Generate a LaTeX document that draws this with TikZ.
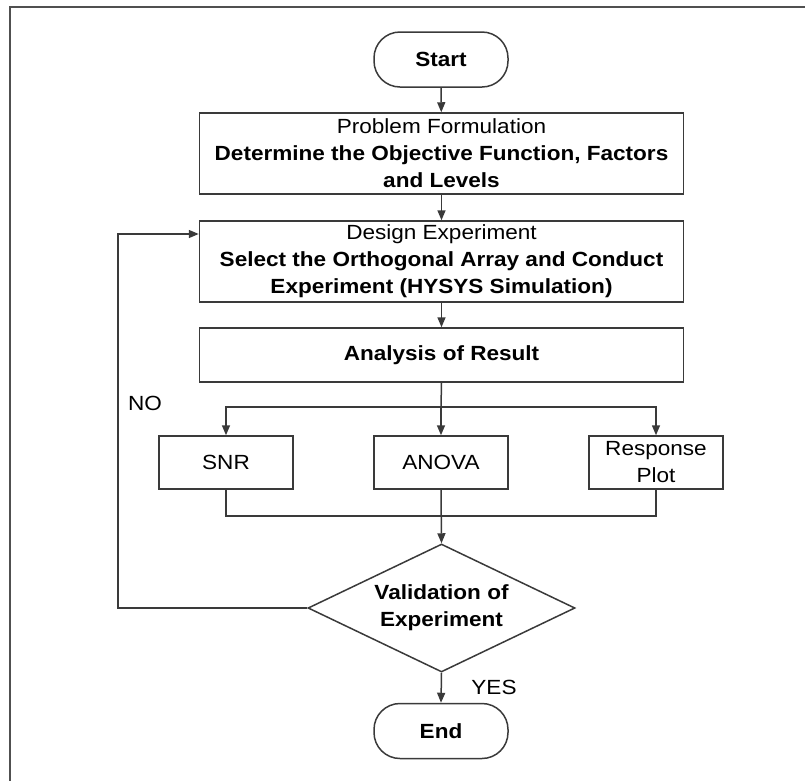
\documentclass[tikz,border=0pt]{standalone}
\usepackage{fontspec}
\setmainfont[FakeStretch=1.1]{Liberation Sans}
\usetikzlibrary{shapes.geometric,arrows.meta}
\definecolor{linec}{HTML}{3A3A3A}
\definecolor{framec}{HTML}{505050}
\begin{document}
\begin{tikzpicture}[x=1pt,y=-1pt,
  base/.style={draw=linec, line width=1.5pt, fill=white, align=center, inner sep=0pt,
    font=\fontsize{20.5}{27}\selectfont, text=black},
  box/.style={base, rectangle},
  term/.style={base, rectangle, rounded corners=26pt, minimum width=134pt, minimum height=55pt, font=\fontsize{20.5}{27}\selectfont\bfseries},
  decis/.style={base, diamond, aspect=2.09, minimum width=267pt, minimum height=128pt, font=\fontsize{20.5}{27}\selectfont\bfseries},
  conn/.style={draw=linec, line width=1.5pt},
  arr/.style={conn, -{Triangle[length=10pt,width=8pt]}},
  lbl/.style={font=\fontsize{20.5}{27}\selectfont, text=black, inner sep=0pt}
]
\useasboundingbox (0,0) rectangle (805,780);
\draw[framec, line width=1.8pt] (10,782) -- (10,7) -- (807,7);

\node[term] (start) at (441,59.5) {Start};
\node[box, minimum width=484pt, minimum height=81pt] (pf) at (441.5,153.5)
  {Problem Formulation\\ \textbf{Determine the Objective Function, Factors}\\ \textbf{and Levels}};
\node[box, minimum width=484pt, minimum height=81pt] (de) at (441.5,261.5)
  {Design Experiment\\ \textbf{Select the Orthogonal Array and Conduct}\\ \textbf{Experiment (HYSYS Simulation)}};
\node[box, minimum width=484pt, minimum height=54pt, font=\fontsize{20.5}{27}\selectfont\bfseries] (ar) at (441.5,355) {Analysis of Result};
\node[box, minimum width=134pt, minimum height=53pt] (snr) at (226,462.5) {SNR};
\node[box, minimum width=134pt, minimum height=53pt] (anova) at (441,462.5) {ANOVA};
\node[box, minimum width=134pt, minimum height=53pt] (resp) at (656,462.5) {Response\\Plot};
\node[decis] (val) at (441.5,608) {Validation of\\Experiment};
\node[term] (end) at (441,731) {End};

\coordinate (split) at (441,407);
\coordinate (merge) at (441,516);
\coordinate (loopb) at (118,608);
\coordinate (loopt) at (118,234);

\draw[arr] (start) -- (pf);
\draw[arr] (pf) -- (de);
\draw[arr] (de) -- (ar);
\draw[conn] (ar.south) -- (split);
\draw[arr] (split) -- (anova.north);
\draw[arr] (split) -| (snr.north);
\draw[arr] (split) -| (resp.north);
\draw[conn] (snr.south) |- (merge);
\draw[conn] (resp.south) |- (merge);
\draw[arr] (anova.south) -- (val.north);
\draw[arr] (val.south) -- (end.north);
\draw[arr] (val.west) -- (loopb) -- (loopt) -- (loopt -| de.west);

\node[lbl] (no) at (145,403) {NO};
\node[lbl] (yes) at (494,687) {YES};
\end{tikzpicture}
\end{document}
